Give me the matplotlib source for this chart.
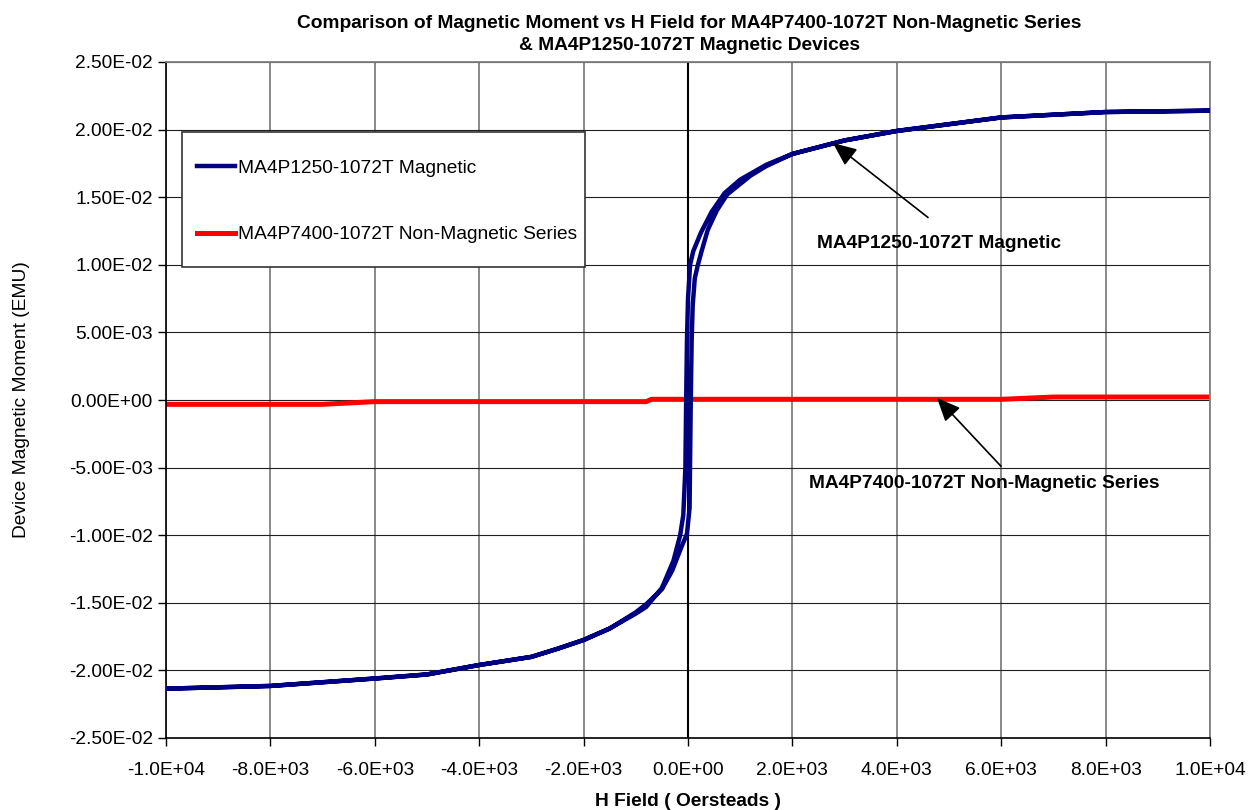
import numpy as np
import matplotlib
matplotlib.use('Agg')
import matplotlib.pyplot as plt
from matplotlib.patches import Rectangle
from matplotlib.ticker import FuncFormatter, MultipleLocator

# magnetic device, hysteresis loop (H in Oe, moment in 1e-3 EMU)
h_down = [10000, 8000, 7000, 6000, 5000, 4000, 3000, 2000, 1500, 1000, 700, 450,
          250, 100, 40, 0, -20, -35, -50, -90, -150, -280, -500, -800, -1000,
          -1500, -2000, -2500, -3000, -4000, -5000, -6000, -8000, -10000]
m_down = [21.4, 21.3, 21.1, 20.9, 20.4, 19.9, 19.2, 18.2, 17.4, 16.3, 15.3, 13.9,
          12.4, 11.0, 10.0, 7.5, 4.4, 0.0, -5.0, -8.5, -10.0, -11.9, -13.9, -15.3, -15.8,
          -16.9, -17.75, -18.4, -19.0, -19.6, -20.3, -20.6, -21.15, -21.35]
h_up = [-10000, -8000, -6000, -5000, -4000, -3000, -2500, -2000, -1500, -1000,
        -800, -500, -300, -150, -20, 30, 50, 70, 90, 130, 190, 260, 380, 550, 750,
        1200, 1500, 2000, 3000, 4000, 5000, 6000, 7000, 8000, 10000]
m_up = [-21.35, -21.15, -20.6, -20.3, -19.6, -19.0, -18.4, -17.75, -16.9, -15.7,
        -15.1, -14.0, -12.6, -11.1, -9.9, -8.0, -1.0, 4.4, 7.0, 9.0, 10.0, 11.0,
        12.6, 14.0, 15.2, 16.6, 17.3, 18.2, 19.2, 19.9, 20.4, 20.9, 21.1, 21.3, 21.4]

# non-magnetic series (1e-3 EMU)
h_nm = [-10000, -7000, -6000, -800, -700, 6000, 7000, 10000]
m_nm = [-0.32, -0.32, -0.12, -0.12, 0.05, 0.05, 0.22, 0.22]

label_mag = 'MA4P1250-1072T Magnetic'
label_nm = 'MA4P7400-1072T Non-Magnetic Series'
title = ('Comparison of Magnetic Moment vs H Field for MA4P7400-1072T Non-Magnetic Series\n'
         '& MA4P1250-1072T Magnetic Devices')

plt.rcParams['font.family'] = ['Liberation Sans', 'DejaVu Sans']
FS = 13.8

fig = plt.figure(figsize=(12.51, 8.10), dpi=100)
ax = fig.add_axes([166 / 1251, 1 - 738 / 810, (1210 - 166) / 1251, (738 - 62) / 810])

h_mag = np.array(h_down + h_up)
m_mag = np.array(m_down + m_up) * 1e-3
ax.plot(h_mag, m_mag, color='#000080', lw=3.2, zorder=3, label=label_mag,
        solid_joinstyle='round')
ax.plot(h_nm, np.array(m_nm) * 1e-3, color='#ff0000', lw=3.6, zorder=2, label=label_nm)

ax.set_xlim(-10000, 10000)
ax.set_ylim(-0.025, 0.025)
ax.xaxis.set_major_locator(MultipleLocator(2000))
ax.yaxis.set_major_locator(MultipleLocator(0.005))
ax.xaxis.set_major_formatter(FuncFormatter(lambda v, p: '%.1E' % v))
ax.yaxis.set_major_formatter(FuncFormatter(lambda v, p: '%.2E' % (0 if abs(v) < 1e-12 else v)))
ax.tick_params(labelsize=FS, direction='out', length=6, width=1, colors='black')
ax.tick_params(axis='x', pad=11.4)

ax.grid(axis='x', color='#808080', lw=1.3, zorder=0)
ax.grid(axis='y', color='#202020', lw=0.8, zorder=0)
ax.set_axisbelow(True)
ax.axvline(0, color='black', lw=1.5, zorder=1)
for s in ['top', 'right']:
    ax.spines[s].set_color('#808080')
    ax.spines[s].set_linewidth(1.3)
for s in ['left', 'bottom']:
    ax.spines[s].set_color('black')
    ax.spines[s].set_linewidth(1.2)

ax.set_xlabel('H Field ( Oersteads )', fontsize=FS, fontweight='bold', labelpad=10)
ax.set_ylabel('Device Magnetic Moment (EMU)', fontsize=FS, labelpad=28)

fig.text(0.551, 0.982, title, ha='center', va='top', fontsize=FS, fontweight='bold',
         linespacing=1.4)

# legend box
ax.add_patch(Rectangle((181.7 / 1251, 1 - 266.7 / 810), (585 - 181.7) / 1251,
                       (266.7 - 131.7) / 810, transform=fig.transFigure, clip_on=False,
                       facecolor='white', edgecolor='#333333', lw=1.2, zorder=4))
leg = ax.legend(loc='upper left', bbox_to_anchor=(187 / 1251, 1 - 150 / 810),
                bbox_transform=fig.transFigure, frameon=False, fontsize=FS,
                handlelength=2.0, handletextpad=0.15, labelspacing=2.55, borderpad=0)
leg.set_zorder(6)

# annotations
arrow = dict(arrowstyle='-|>,head_length=0.8,head_width=0.35', color='black', lw=1.2,
             shrinkA=0, shrinkB=0, mutation_scale=18)
ax.annotate('', xy=(2778, 0.0190), xytext=(4598, 0.0135), arrowprops=arrow, zorder=5)
ax.text(2470, 0.0116, label_mag, fontsize=FS, fontweight='bold', va='center', ha='left')
ax.annotate('', xy=(4770, 0.00015), xytext=(5996, -0.0049), arrowprops=arrow, zorder=5)
ax.text(2318, -0.0062, label_nm, fontsize=FS, fontweight='bold', va='center', ha='left')

fig.savefig('out.png', dpi=100)
